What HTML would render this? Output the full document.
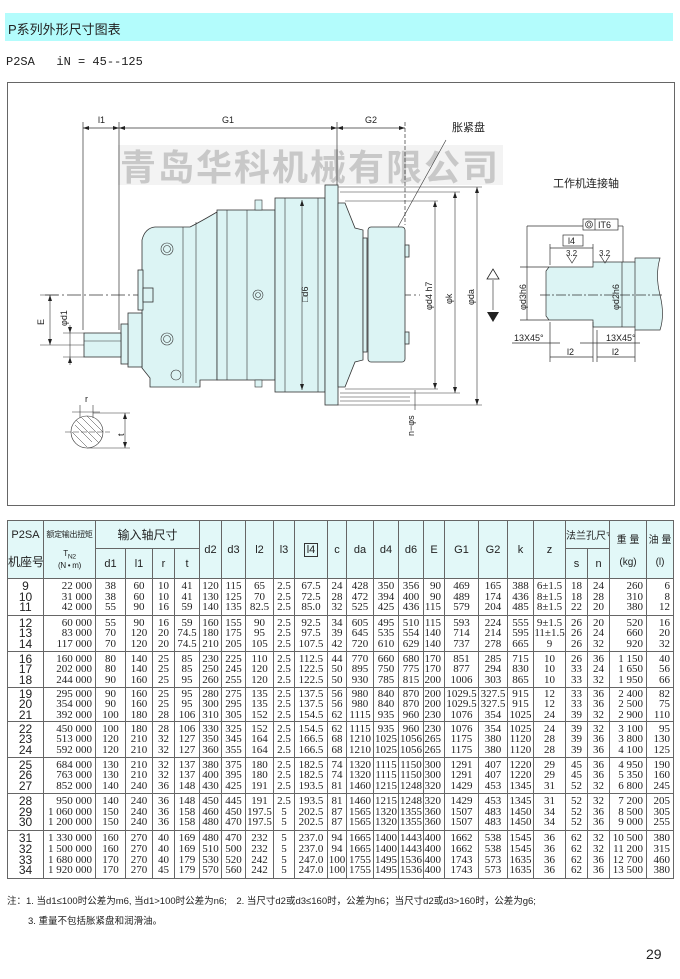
<!DOCTYPE html>
<html><head><meta charset="utf-8">
<style>
body{margin:0;width:680px;height:979px;background:#fff;position:relative;overflow:hidden;font-family:"Liberation Sans","Noto Sans CJK SC",sans-serif;color:#222}
.title{position:absolute;left:5px;top:13px;width:668px;height:28px;background:#b3fcfc}
.title span{position:absolute;left:3px;top:6px;font-size:13px}
.sub{position:absolute;left:6px;top:55px;font-size:12px;font-family:"Liberation Mono","Noto Sans CJK SC",monospace;white-space:pre}
svg{position:absolute;left:0;top:0}
table{position:absolute;left:7px;top:520px;border-collapse:collapse;table-layout:fixed;width:666px;border:1.5px solid #444}
td{border:1px solid #666;padding:0;text-align:center;vertical-align:middle;overflow:hidden;white-space:nowrap}
thead td{background:#e2f8f8;font-size:11px;font-family:"Liberation Sans","Noto Sans CJK SC",sans-serif}
tbody td{font-family:"Liberation Serif","Noto Serif CJK SC",serif;font-size:11px;line-height:10.6px}
tbody td.m{font-family:"Liberation Sans",sans-serif;font-size:12px;font-weight:normal}
tbody td.r{text-align:right;padding-right:3px}
.note{position:absolute;left:28px;font-size:9.5px;font-family:"Liberation Sans","Noto Sans CJK SC",sans-serif}
</style></head><body>
<div class="title"><span>P系列外形尺寸图表</span></div>
<div class="sub">P2SA   iN = 45--125</div>

<svg width="680" height="979" viewBox="0 0 680 979">
<rect x="7.5" y="82.5" width="667" height="423" fill="none" stroke="#666" stroke-width="1"/>
<rect x="118" y="145" width="385" height="40" fill="#f3f3f3"/>
<text x="120" y="180" font-size="36" font-weight="bold" fill="#c8c8c8" font-family="Noto Sans CJK SC,sans-serif" letter-spacing="2">青岛华科机械有限公司</text>
<g stroke="#333" stroke-width="0.7" fill="none">
<line x1="83" y1="122" x2="83" y2="330"/><line x1="119" y1="122" x2="119" y2="330"/>
<line x1="337" y1="122" x2="337" y2="190"/><line x1="405" y1="122" x2="405" y2="225" stroke-dasharray="4,2"/>
<line x1="83" y1="128" x2="405" y2="128"/>
<line x1="45" y1="295" x2="420" y2="295" stroke-dasharray="14,3,2,3"/>
</g>
<g font-size="9" fill="#222" font-family="Liberation Sans,sans-serif">
<text x="98" y="123">l1</text><text x="222" y="123">G1</text><text x="365" y="123">G2</text>
</g>
<text x="452" y="131" font-size="11" fill="#222">胀紧盘</text>
<line x1="446" y1="140" x2="388" y2="245" stroke="#333" stroke-width="0.6"/>
<g fill="#dcf4f4" stroke="#333" stroke-width="0.8">
<path d="M142,240 Q145,228 155,227 L190,227 Q200,222 217,212 L217,380 L200,380 L200,387 L150,387 L150,378 L142,368 Z"/>
<rect x="217" y="210" width="58" height="170"/>
<rect x="275" y="198" width="50" height="194"/>
<rect x="325" y="185" width="13" height="220"/>
<path d="M338,203 L345,203 L355,228 L363,230 L363,360 L355,362 L345,387 L338,387 Z"/>
<rect x="363" y="238" width="4" height="114"/>
<rect x="368" y="227" width="37" height="135" rx="3"/>
<rect x="405" y="245" width="4" height="12"/><rect x="405" y="332" width="4" height="12"/>
<rect x="128" y="313" width="14" height="54"/>
<rect x="121" y="324" width="7" height="40"/>
<rect x="84" y="333" width="37" height="24"/>
<rect x="138" y="270" width="5" height="40"/>
<rect x="143" y="288" width="10" height="14"/>
</g>
<g stroke="#333" stroke-width="0.6" fill="none">
<line x1="183" y1="227" x2="183" y2="383"/><line x1="196" y1="222" x2="196" y2="383"/>
<line x1="227" y1="210" x2="227" y2="380"/><line x1="247" y1="210" x2="247" y2="380"/>
<line x1="285" y1="198" x2="285" y2="392"/><line x1="318" y1="198" x2="318" y2="392"/>
<line x1="84" y1="341" x2="121" y2="341"/>
<circle cx="167" cy="249" r="6"/><circle cx="167" cy="249" r="3.5"/>
<circle cx="167" cy="339" r="6"/><circle cx="167" cy="339" r="3.5"/>
<circle cx="176" cy="375" r="5"/>
<circle cx="258" cy="295" r="5"/><circle cx="258" cy="295" r="2.5"/>
<line x1="302" y1="200" x2="302" y2="390"/>
<rect x="255" y="200" width="7" height="10" fill="#dcf4f4"/>
<rect x="255" y="380" width="7" height="7" fill="#dcf4f4"/>
<line x1="345" y1="201" x2="438" y2="201"/><line x1="340" y1="192" x2="460" y2="192"/><line x1="338" y1="187" x2="482" y2="187"/>
<line x1="345" y1="389" x2="438" y2="389"/><line x1="340" y1="393" x2="460" y2="393"/><line x1="338" y1="405" x2="482" y2="405"/>
<line x1="340" y1="397" x2="410" y2="397"/><line x1="340" y1="401" x2="410" y2="401"/>
<line x1="435" y1="201" x2="435" y2="389"/><line x1="455" y1="192" x2="455" y2="393"/><line x1="477" y1="187" x2="477" y2="405"/>
<line x1="415" y1="390" x2="415" y2="410"/>
<line x1="40" y1="295" x2="58" y2="295"/><line x1="40" y1="345" x2="84" y2="345"/>
<line x1="50" y1="295" x2="50" y2="345"/>
<line x1="70" y1="325" x2="70" y2="365"/><line x1="63" y1="333" x2="84" y2="333"/><line x1="63" y1="357" x2="84" y2="357"/>
<circle cx="87" cy="432" r="16" fill="#fff"/>
<path d="M75,425 L92,442 M72,432 L87,447 M76,420 L99,443 M81,417 L102,438 M87,416 L103,432" stroke-width="0.5"/>
<line x1="72" y1="412" x2="100" y2="412"/><line x1="80" y1="405" x2="80" y2="418"/><line x1="93" y1="405" x2="93" y2="418"/>
<line x1="93" y1="413" x2="130" y2="413"/><line x1="87" y1="448" x2="130" y2="448"/><line x1="125" y1="413" x2="125" y2="448"/>
<line x1="65" y1="432" x2="110" y2="432" stroke-dasharray="6,2"/>
</g>
<g fill="#222">
<path d="M435,201 l-2,6 h4z M435,389 l-2,-6 h4z M455,192 l-2,6 h4z M455,393 l-2,-6 h4z M477,187 l-2,6 h4z M477,405 l-2,-6 h4z M302,200 l-2,6 h4z M302,390 l-2,-6 h4z"/>
<path d="M83,128 l6,-2 v4z M119,128 l-6,-2 v4z M119,128 l6,-2 v4z M337,128 l-6,-2 v4z M337,128 l6,-2 v4z M405,128 l-6,-2 v4z"/>
<path d="M50,295 l-2,6 h4z M50,345 l-2,-6 h4z M70,333 l-2,-6 h4z M70,357 l-2,6 h4z M125,413 l-2,6 h4z M125,448 l-2,-6 h4z"/>
<path d="M487,312 h12 l-6,10z"/>
</g>
<path d="M487,279 h12 l-6,-10z" fill="none" stroke="#222" stroke-width="0.8"/>
<line x1="493" y1="280" x2="493" y2="310" stroke="#222" stroke-width="0.6"/>
<g font-size="9" fill="#222" font-family="Liberation Sans,sans-serif">
<text transform="translate(308,302) rotate(-90)">□d6</text>
<text transform="translate(432,310) rotate(-90)">φd4 h7</text>
<text transform="translate(452,304) rotate(-90)">φk</text>
<text transform="translate(474,305) rotate(-90)">φda</text>
<text transform="translate(44,325) rotate(-90)">E</text>
<text transform="translate(67,326) rotate(-90)">φd1</text>
<text transform="translate(414,436) rotate(-90)">n−φs</text>
<text x="85" y="402">r</text>
<text transform="translate(124,436) rotate(-90)">t</text>
</g>
<text x="553" y="187" font-size="11" fill="#222">工作机连接轴</text>
<g stroke="#333" stroke-width="0.7">
<path d="M549,267 L593,267 L593,262 L635,262 L635,258 L660,258 Q655,275 660,295 Q665,315 660,330 L635,330 L635,327 L593,327 L593,320 L549,320 L546,316 L546,271 Z" fill="#dcf4f4"/>
<line x1="635" y1="262" x2="635" y2="327"/>
<g fill="none">
<line x1="540" y1="295" x2="664" y2="295" stroke-dasharray="10,2,2,2"/>
<line x1="527" y1="226" x2="583" y2="226"/><line x1="527" y1="226" x2="527" y2="320"/>
<line x1="618" y1="226" x2="623" y2="226"/><line x1="623" y1="226" x2="623" y2="262"/>
<line x1="520" y1="267" x2="549" y2="267"/><line x1="520" y1="320" x2="549" y2="320"/>
<line x1="622" y1="262" x2="622" y2="327"/>
<line x1="550" y1="248" x2="593" y2="248"/><line x1="550" y1="244" x2="550" y2="265"/><line x1="593" y1="244" x2="593" y2="262"/>
<line x1="550" y1="322" x2="550" y2="362"/><line x1="593" y1="322" x2="593" y2="362"/><line x1="597" y1="330" x2="597" y2="362"/><line x1="635" y1="330" x2="635" y2="362"/>
<line x1="550" y1="357" x2="593" y2="357"/><line x1="597" y1="357" x2="635" y2="357"/>
<line x1="512" y1="343" x2="560" y2="343"/><line x1="580" y1="343" x2="640" y2="343"/>
<path d="M567,255 l5,8 l5,-8 M600,255 l5,8 l5,-8"/>
<rect x="583" y="219" width="35" height="11" fill="#fff"/><line x1="595" y1="219" x2="595" y2="230"/>
<circle cx="589" cy="224.5" r="3.5"/><circle cx="589" cy="224.5" r="1.8"/>
<rect x="563" y="235" width="20" height="11" fill="#fff"/>
</g></g>
<g font-size="9" fill="#222" font-family="Liberation Sans,sans-serif">
<text x="598" y="228">IT6</text><text x="568" y="244">l4</text>
<text x="566" y="256" font-size="8">3.2</text><text x="599" y="256" font-size="8">3.2</text>
<text transform="translate(526,310) rotate(-90)">φd3h6</text>
<text transform="translate(619,310) rotate(-90)">φd2h6</text>
<text x="514" y="341">13X45°</text><text x="606" y="341">13X45°</text>
<text x="567" y="355">l2</text><text x="612" y="355">l2</text>
</g>
</svg>

<table>
<colgroup><col style="width:36px"><col style="width:52px"><col style="width:30px"><col style="width:27px"><col style="width:22px"><col style="width:25px"><col style="width:22px"><col style="width:24px"><col style="width:28px"><col style="width:21px"><col style="width:33px"><col style="width:19px"><col style="width:27px"><col style="width:25px"><col style="width:25px"><col style="width:21px"><col style="width:34px"><col style="width:29px"><col style="width:26px"><col style="width:32px"><col style="width:22px"><col style="width:22px"><col style="width:37px"><col style="width:27px"></colgroup>
<thead>
<tr style="height:28px"><td rowspan="2">P2SA<br><br><span style="font-size:12px">机座号</span></td><td rowspan="2" style="font-size:8px;letter-spacing:-0.3px">额定输出扭矩<br><br>T<sub>N2</sub><br>(N • m)</td><td colspan="4" style="font-size:12px">输入轴尺寸</td><td rowspan="2">d2</td><td rowspan="2">d3</td><td rowspan="2">l2</td><td rowspan="2">l3</td><td rowspan="2"><span style="border:1px solid #333;padding:0 2px">l4</span></td><td rowspan="2">c</td><td rowspan="2">da</td><td rowspan="2">d4</td><td rowspan="2">d6</td><td rowspan="2">E</td><td rowspan="2">G1</td><td rowspan="2">G2</td><td rowspan="2">k</td><td rowspan="2">z</td><td colspan="2" style="font-size:10px">法兰孔尺寸</td><td rowspan="2" style="font-size:10px">重 量<br><br>(kg)</td><td rowspan="2" style="font-size:10px">油 量<br><br>(l)</td></tr>
<tr style="height:30px"><td>d1</td><td>l1</td><td>r</td><td>t</td><td>s</td><td>n</td></tr>
</thead>
<tbody>
<tr style="height:37px"><td class="m">9<br>10<br>11</td><td class="r">22 000<br>31 000<br>42 000</td><td>38<br>38<br>55</td><td>60<br>60<br>90</td><td>10<br>10<br>16</td><td>41<br>41<br>59</td><td>120<br>130<br>140</td><td>115<br>125<br>135</td><td>65<br>70<br>82.5</td><td>2.5<br>2.5<br>2.5</td><td>67.5<br>72.5<br>85.0</td><td>24<br>28<br>32</td><td>428<br>472<br>525</td><td>350<br>394<br>425</td><td>356<br>400<br>436</td><td class="r">90<br>90<br>115</td><td>469<br>489<br>579</td><td>165<br>174<br>204</td><td>388<br>436<br>485</td><td>6±1.5<br>8±1.5<br>8±1.5</td><td>18<br>18<br>22</td><td>24<br>28<br>20</td><td class="r">260<br>310<br>380</td><td class="r">6<br>8<br>12</td></tr>
<tr style="height:36px"><td class="m">12<br>13<br>14</td><td class="r">60 000<br>83 000<br>117 000</td><td>55<br>70<br>70</td><td>90<br>120<br>120</td><td>16<br>20<br>20</td><td>59<br>74.5<br>74.5</td><td>160<br>180<br>210</td><td>155<br>175<br>205</td><td>90<br>95<br>105</td><td>2.5<br>2.5<br>2.5</td><td>92.5<br>97.5<br>107.5</td><td>34<br>39<br>42</td><td>605<br>645<br>720</td><td>495<br>535<br>610</td><td>510<br>554<br>629</td><td class="r">115<br>140<br>140</td><td>593<br>714<br>737</td><td>224<br>214<br>278</td><td>555<br>595<br>665</td><td>9±1.5<br>11±1.5<br>9</td><td>26<br>26<br>26</td><td>20<br>24<br>32</td><td class="r">520<br>660<br>920</td><td class="r">16<br>20<br>32</td></tr>
<tr style="height:36px"><td class="m">16<br>17<br>18</td><td class="r">160 000<br>202 000<br>244 000</td><td>80<br>80<br>90</td><td>140<br>140<br>160</td><td>25<br>25<br>25</td><td>85<br>85<br>95</td><td>230<br>250<br>260</td><td>225<br>245<br>255</td><td>110<br>120<br>120</td><td>2.5<br>2.5<br>2.5</td><td>112.5<br>122.5<br>122.5</td><td>44<br>50<br>50</td><td>770<br>895<br>930</td><td>660<br>750<br>785</td><td>680<br>775<br>815</td><td class="r">170<br>170<br>200</td><td>851<br>877<br>1006</td><td>285<br>294<br>303</td><td>715<br>830<br>865</td><td>10<br>10<br>10</td><td>26<br>33<br>33</td><td>36<br>24<br>32</td><td class="r">1 150<br>1 650<br>1 950</td><td class="r">40<br>56<br>66</td></tr>
<tr style="height:34px"><td class="m">19<br>20<br>21</td><td class="r">295 000<br>354 000<br>392 000</td><td>90<br>90<br>100</td><td>160<br>160<br>180</td><td>25<br>25<br>28</td><td>95<br>95<br>106</td><td>280<br>300<br>310</td><td>275<br>295<br>305</td><td>135<br>135<br>152</td><td>2.5<br>2.5<br>2.5</td><td>137.5<br>137.5<br>154.5</td><td>56<br>56<br>62</td><td>980<br>980<br>1115</td><td>840<br>840<br>935</td><td>870<br>870<br>960</td><td class="r">200<br>200<br>230</td><td>1029.5<br>1029.5<br>1076</td><td>327.5<br>327.5<br>354</td><td>915<br>915<br>1025</td><td>12<br>12<br>24</td><td>33<br>33<br>39</td><td>36<br>36<br>32</td><td class="r">2 400<br>2 500<br>2 900</td><td class="r">82<br>75<br>110</td></tr>
<tr style="height:36px"><td class="m">22<br>23<br>24</td><td class="r">450 000<br>513 000<br>592 000</td><td>100<br>120<br>120</td><td>180<br>210<br>210</td><td>28<br>32<br>32</td><td>106<br>127<br>127</td><td>330<br>350<br>360</td><td>325<br>345<br>355</td><td>152<br>164<br>164</td><td>2.5<br>2.5<br>2.5</td><td>154.5<br>166.5<br>166.5</td><td>62<br>68<br>68</td><td>1115<br>1210<br>1210</td><td>935<br>1025<br>1025</td><td>960<br>1056<br>1056</td><td class="r">230<br>265<br>265</td><td>1076<br>1175<br>1175</td><td>354<br>380<br>380</td><td>1025<br>1120<br>1120</td><td>24<br>28<br>28</td><td>39<br>39<br>39</td><td>32<br>36<br>36</td><td class="r">3 100<br>3 800<br>4 100</td><td class="r">95<br>130<br>125</td></tr>
<tr style="height:36px"><td class="m">25<br>26<br>27</td><td class="r">684 000<br>763 000<br>852 000</td><td>130<br>130<br>140</td><td>210<br>210<br>240</td><td>32<br>32<br>36</td><td>137<br>137<br>148</td><td>380<br>400<br>430</td><td>375<br>395<br>425</td><td>180<br>180<br>191</td><td>2.5<br>2.5<br>2.5</td><td>182.5<br>182.5<br>193.5</td><td>74<br>74<br>81</td><td>1320<br>1320<br>1460</td><td>1115<br>1115<br>1215</td><td>1150<br>1150<br>1248</td><td class="r">300<br>300<br>320</td><td>1291<br>1291<br>1429</td><td>407<br>407<br>453</td><td>1220<br>1220<br>1345</td><td>29<br>29<br>31</td><td>45<br>45<br>52</td><td>36<br>36<br>32</td><td class="r">4 950<br>5 350<br>6 800</td><td class="r">190<br>160<br>245</td></tr>
<tr style="height:37px"><td class="m">28<br>29<br>30</td><td class="r">950 000<br>1 060 000<br>1 200 000</td><td>140<br>150<br>150</td><td>240<br>240<br>240</td><td>36<br>36<br>36</td><td>148<br>158<br>158</td><td>450<br>460<br>480</td><td>445<br>450<br>470</td><td>191<br>197.5<br>197.5</td><td>2.5<br>5<br>5</td><td>193.5<br>202.5<br>202.5</td><td>81<br>87<br>87</td><td>1460<br>1565<br>1565</td><td>1215<br>1320<br>1320</td><td>1248<br>1355<br>1355</td><td class="r">320<br>360<br>360</td><td>1429<br>1507<br>1507</td><td>453<br>483<br>483</td><td>1345<br>1450<br>1450</td><td>31<br>34<br>34</td><td>52<br>52<br>52</td><td>32<br>36<br>36</td><td class="r">7 200<br>8 500<br>9 000</td><td class="r">205<br>305<br>255</td></tr>
<tr style="height:48px"><td class="m">31<br>32<br>33<br>34</td><td class="r">1 330 000<br>1 500 000<br>1 680 000<br>1 920 000</td><td>160<br>160<br>170<br>170</td><td>270<br>270<br>270<br>270</td><td>40<br>40<br>40<br>45</td><td>169<br>169<br>179<br>179</td><td>480<br>510<br>530<br>570</td><td>470<br>500<br>520<br>560</td><td>232<br>232<br>242<br>242</td><td>5<br>5<br>5<br>5</td><td>237.0<br>237.0<br>247.0<br>247.0</td><td>94<br>94<br>100<br>100</td><td>1665<br>1665<br>1755<br>1755</td><td>1400<br>1400<br>1495<br>1495</td><td>1443<br>1443<br>1536<br>1536</td><td class="r">400<br>400<br>400<br>400</td><td>1662<br>1662<br>1743<br>1743</td><td>538<br>538<br>573<br>573</td><td>1545<br>1545<br>1635<br>1635</td><td>36<br>36<br>36<br>36</td><td>62<br>62<br>62<br>62</td><td>32<br>32<br>36<br>36</td><td class="r">10 500<br>11 200<br>12 700<br>13 500</td><td class="r">380<br>315<br>460<br>380</td></tr>
</tbody>
</table>

<div class="note" style="left:7px;top:893px">注：1. 当d1≤100时公差为m6, 当d1&gt;100时公差为n6;　2. 当尺寸d2或d3≤160时，公差为h6；当尺寸d2或d3&gt;160时，公差为g6;</div>
<div class="note" style="top:913px">3. 重量不包括胀紧盘和润滑油。</div>
<div style="position:absolute;left:646px;top:946px;font-size:14px">29</div>
</body></html>
